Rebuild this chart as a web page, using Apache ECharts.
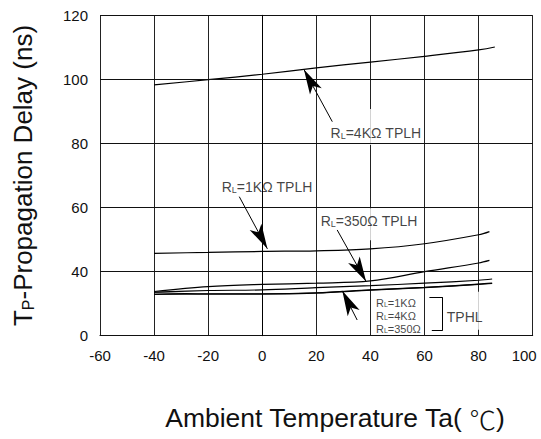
<!DOCTYPE html>
<html>
<head>
<meta charset="utf-8">
<script src="https://cdn.jsdelivr.net/npm/echarts@6/dist/echarts.min.js"></script>
<style>html,body{margin:0;padding:0;background:#fff;}#c{width:541px;height:439px;}</style>
</head>
<body>
<div id="c"></div>
<script>
// ---- data ----
// Note: the original y axis is broken: the bottom gridline labelled "0" sits where 20 would be,
// so values are stored on the continuous 20..120 scale and the bottom tick is labelled "0".
const xTicks = [-60, -40, -20, 0, 20, 40, 60, 80, 100];
const yTicks = [20, 40, 60, 80, 100, 120];
const yTickLabels = ['0', '40', '60', '80', '100', '120'];

const temps4k   = [-40, -20, 0, 20, 40, 60, 80, 86];
const tempsTPLH = [-40, -20, 0, 20, 40, 60, 80, 84];
const tempsTPHL = [-40, -20, 0, 20, 40, 60, 80, 85];

const tplh4k   = [98.3, 99.9, 101.6, 103.6, 105.4, 107.2, 109.2, 110.1];
const tplh1k   = [45.7, 46.0, 46.3, 46.5, 47.1, 48.7, 51.5, 52.5];
const tplh350  = [33.8, 35.3, 36.0, 36.4, 37.1, 40.0, 42.7, 43.5];
const tphlHigh = [33.6, 34.1, 34.3, 35.0, 35.6, 36.4, 37.3, 37.7];
const tphlLow  = [32.9, 33.0, 33.0, 33.3, 34.2, 35.0, 36.0, 36.3];
const tphlMid  = [33.4, 33.1, 33.1, 33.4, 34.3, 35.1, 36.1, 36.4];

// annotation arrows [x1, y1, x2, y2] (data coordinates, tail -> tip)
const arrows = [
  [25.9, 86.8, 15.4, 103.1],
  [-8.5, 63.4, 1.9, 47.1],
  [27.7, 53.0, 38.4, 36.9],
  [35.1, 24.9, 29.6, 34.0]
];
// bracket for the TPHL legend
const bracket = [
  [61.8, 32.0, 66.7, 32.0],
  [66.7, 32.0, 66.7, 21.6],
  [62.7, 21.6, 66.7, 21.6]
];

const FONT = 'Liberation Sans, Arial, sans-serif';
const zip = (xs, ys) => xs.map((x, i) => [x, ys[i]]);

const rl = (size, small, lh, slh) => ({
  r: { fontSize: size, fontFamily: FONT, color: '#111', lineHeight: lh, verticalAlign: 'bottom' },
  s: { fontSize: small, fontFamily: FONT, color: '#111', lineHeight: slh, verticalAlign: 'bottom' }
});

function lineSeries(name, xs, ys, extra) {
  return Object.assign({
    name: name, type: 'line', data: zip(xs, ys), symbol: 'none', smooth: 0.35,
    lineStyle: { color: '#000', width: 1.2 }, itemStyle: { color: '#000' }, z: 2, silent: true
  }, extra || {});
}

const labelItems = [
  { value: [42.0, 85.1], label: { formatter: '{r|R}{s|L}{r|=4KΩ TPLH}', padding: [13, 2, 5, 2], backgroundColor: '#fff', rich: rl(14, 9, 18, 14.5) } },
  { value: [1.75, 68.35], label: { formatter: '{r|R}{s|L}{r|=1KΩ TPLH}', padding: [13, 2, 4, 2], backgroundColor: '#fff', rich: rl(14, 9, 18, 14.5) } },
  { value: [39.5, 54.8], label: { formatter: '{r|R}{s|L}{r|=350Ω TPLH}', padding: [2, 2, 12, 2], backgroundColor: '#fff', rich: rl(14, 9, 18, 14.5) } },
  { value: [74.85, 27.76], label: { formatter: '{r|TPHL}', padding: [14, 2, 6, 2], backgroundColor: '#fff', rich: rl(14, 9, 18, 14.5) } },
  { value: [42.05, 26.5], label: { formatter: '{r|R}{s|L}{r|=1KΩ}\n{r|R}{s|L}{r|=4KΩ}\n{r|R}{s|L}{r|=350Ω}', align: 'left', rich: rl(11, 7, 13, 10.2) } }
];

const chart = echarts.init(document.getElementById('c'), null, { renderer: 'svg' });
chart.setOption({
  animation: false,
  textStyle: { fontFamily: FONT },
  grid: { left: 100, right: 8.3, top: 15.3, bottom: 103.3 },
  xAxis: {
    type: 'value', min: xTicks[0], max: xTicks[xTicks.length - 1], interval: 20, z: 0,
    axisLine: { show: true, onZero: false, lineStyle: { color: '#000', width: 1 } },
    axisTick: { show: false },
    splitLine: { show: true, lineStyle: { color: '#222', width: 1 } },
    axisLabel: {
      fontSize: 15, color: '#111', margin: 12, fontFamily: FONT,
      formatter: v => v === 100 ? '{e|100}' : String(v),
      rich: { e: { fontSize: 15, color: '#111', fontFamily: FONT, padding: [0, 17, 0, 0] } }
    },
    name: 'Ambient Temperature Ta( {d|℃})', nameLocation: 'middle', nameGap: 69,
    nameTextStyle: {
      fontSize: 26.5, color: '#111', fontFamily: FONT, padding: [0, 0, 0, 37],
      rich: { d: { fontSize: 26.5, fontFamily: 'Noto Sans CJK SC', fontWeight: 300, color: '#111' } }
    }
  },
  yAxis: {
    type: 'value', min: yTicks[0], max: yTicks[yTicks.length - 1], interval: 20, z: 4,
    axisLine: { show: true, lineStyle: { color: '#000', width: 1 } },
    axisTick: { show: false },
    splitLine: { show: true, lineStyle: { color: '#111', width: 1 } },
    axisLabel: {
      fontSize: 15, color: '#111', margin: 12, fontFamily: FONT,
      formatter: v => yTickLabels[yTicks.indexOf(v)]
    },
    name: '{a|T}{b|P}{a|-Propagation Delay (ns)}', nameLocation: 'middle', nameRotate: 90, nameGap: 64,
    nameTextStyle: {
      fontSize: 26, color: '#111', fontFamily: FONT,
      rich: {
        a: { fontSize: 26, fontFamily: FONT, color: '#111', lineHeight: 31, verticalAlign: 'bottom' },
        b: { fontSize: 16, fontFamily: FONT, color: '#111', lineHeight: 24, verticalAlign: 'bottom' }
      }
    }
  },
  series: [
    lineSeries('RL=4KΩ TPLH', temps4k, tplh4k, {
      markLine: {
        silent: true, animation: false, symbol: ['none', 'arrow'], symbolSize: [10, 25],
        label: { show: false }, lineStyle: { color: '#000', width: 1, type: 'solid' },
        data: arrows.map(a => [{ coord: [a[0], a[1]] }, { coord: [a[2], a[3]] }])
      }
    }),
    lineSeries('RL=1KΩ TPLH', tempsTPLH, tplh1k),
    lineSeries('RL=350Ω TPLH', tempsTPLH, tplh350, {
      markLine: {
        silent: true, animation: false, symbol: ['none', 'none'],
        label: { show: false }, lineStyle: { color: '#000', width: 1, type: 'solid' },
        data: bracket.map(a => [{ coord: [a[0], a[1]] }, { coord: [a[2], a[3]] }])
      }
    }),
    lineSeries('TPHL a', tempsTPHL, tphlHigh),
    lineSeries('TPHL b', tempsTPHL, tphlMid),
    lineSeries('TPHL c', tempsTPHL, tphlLow),
    {
      name: 'labels', type: 'scatter', symbolSize: 0, silent: true, z: 3,
      data: labelItems,
      label: { show: true, position: [0, 0], align: 'center', verticalAlign: 'middle', color: '#111', fontFamily: FONT }
    }
  ]
});
</script>
</body>
</html>
